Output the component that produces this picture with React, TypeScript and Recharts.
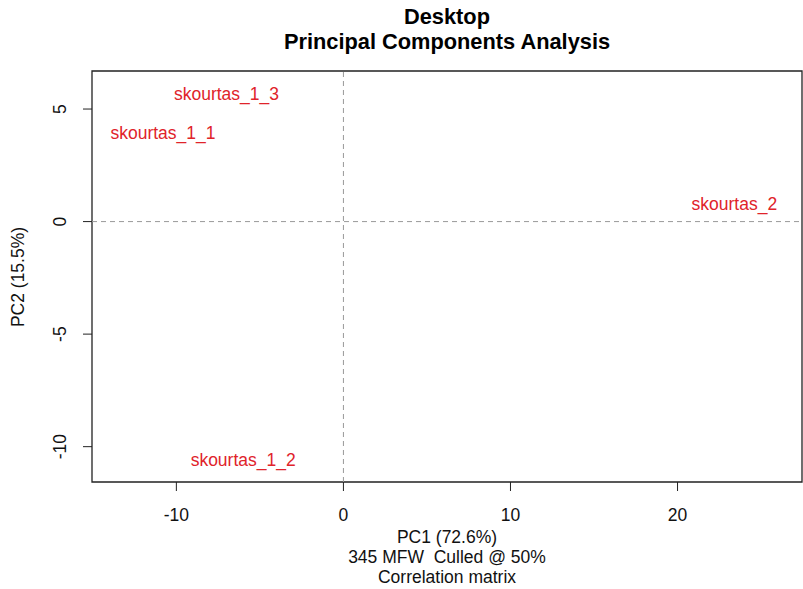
import React from 'react';
import { ScatterChart, Scatter, XAxis, YAxis, ReferenceLine, ReferenceArea } from 'recharts';

// PCA scores for each text sample
const sampleNames = ['skourtas_1_1', 'skourtas_1_2', 'skourtas_1_3', 'skourtas_2'];
const pc1Scores = [-10.8, -6.0, -7.0, 23.4];
const pc2Scores = [3.95, -10.6, 5.65, 0.8];

const xTicks = [-10, 0, 10, 20];
const yTicks = [-10, -5, 0, 5];
const xDomain: [number, number] = [-15.05, 27.45];
const yDomain: [number, number] = [-11.57, 6.69];

const titleLines = ['Desktop', 'Principal Components Analysis'];
const xLabelLines = ['PC1 (72.6%)', '345 MFW  Culled @ 50%', 'Correlation matrix'];
const yLabel = 'PC2 (15.5%)';

const FONT = '"Liberation Sans", Arial, Helvetica, sans-serif';
const RED = '#e0232a';

const points = sampleNames.map((name, i) => ({ name, pc1: pc1Scores[i], pc2: pc2Scores[i] }));

const SampleLabel = (props: any) => {
  const { cx, cy, payload } = props;
  return (
    <text x={cx} y={cy} textAnchor="middle" dominantBaseline="central" fill={RED}
      fontSize={17.5} fontFamily={FONT}>
      {payload.name}
    </text>
  );
};

const XTick = (props: any) => {
  const { x, payload } = props;
  return (
    <text x={x} y={515} textAnchor="middle" dominantBaseline="central" fill="#111"
      fontSize={17.5} fontFamily={FONT}>
      {payload.value}
    </text>
  );
};

const YTick = (props: any) => {
  const { y, payload } = props;
  return (
    <text x={60} y={y} transform={`rotate(-90 60 ${y})`} textAnchor="middle"
      dominantBaseline="central" fill="#111" fontSize={17.5} fontFamily={FONT}>
      {payload.value}
    </text>
  );
};

export default function App() {
  return (
    <div style={{ position: 'absolute', left: 0, top: 0, width: 803, height: 589, background: '#fff', fontFamily: FONT }}>
      <ScatterChart width={803} height={589} margin={{ top: 71, right: 1, bottom: 0, left: 0 }}>
        <XAxis type="number" dataKey="pc1" domain={xDomain} ticks={xTicks} allowDataOverflow
          height={107} axisLine={false} tickSize={9} tickLine={{ stroke: '#222' }} tick={<XTick />} />
        <YAxis type="number" dataKey="pc2" domain={yDomain} ticks={yTicks} allowDataOverflow
          width={92} axisLine={false} tickSize={9} tickLine={{ stroke: '#222' }} tick={<YTick />} />
        <ReferenceLine x={0} stroke="#999" strokeDasharray="5 4" />
        <ReferenceLine y={0} stroke="#999" strokeDasharray="5 4" />
        <ReferenceArea x1={xDomain[0]} x2={xDomain[1]} y1={yDomain[0]} y2={yDomain[1]}
          fill="none" fillOpacity={0} stroke="#222" strokeWidth={1.3} />
        <Scatter data={points} shape={<SampleLabel />} isAnimationActive={false} />
      </ScatterChart>

      {titleLines.map((line, i) => (
        <div key={line} style={{ position: 'absolute', left: 92, width: 710, top: 4 + i * 25,
          textAlign: 'center', fontWeight: 'bold', fontSize: 21.8, lineHeight: '25px', color: '#000' }}>
          {line}
        </div>
      ))}

      {xLabelLines.map((line, i) => (
        <div key={line} style={{ position: 'absolute', left: 92, width: 710, top: 527 + i * 20,
          textAlign: 'center', fontSize: 17.5, lineHeight: '20px', color: '#111', whiteSpace: 'pre' }}>
          {line}
        </div>
      ))}

      <div style={{ position: 'absolute', left: 18, top: 277, transform: 'translate(-50%, -50%) rotate(-90deg)',
        fontSize: 17.5, color: '#111', whiteSpace: 'nowrap' }}>
        {yLabel}
      </div>
    </div>
  );
}
